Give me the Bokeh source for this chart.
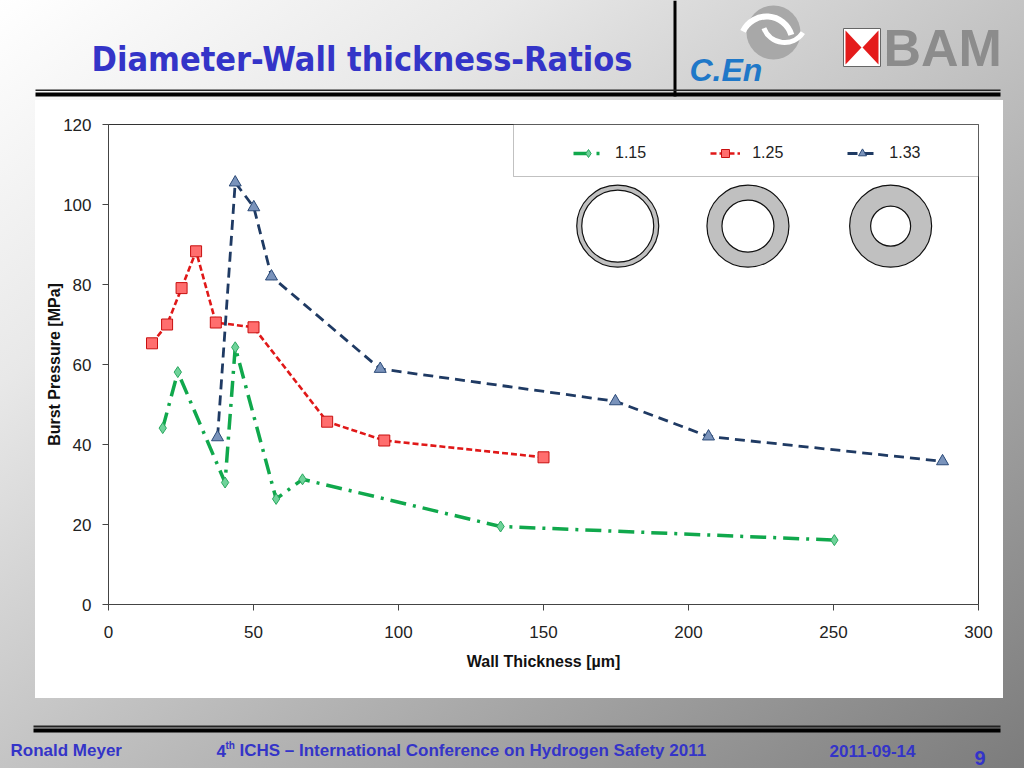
from bokeh.plotting import figure
from bokeh.layouts import column
from bokeh.models import Range1d, Legend, LegendItem, BoxAnnotation, FixedTicker
from bokeh.core.properties import value
from bokeh.embed import file_html
from bokeh.resources import INLINE

# ---------------- data ----------------
x_115 = [18.7, 23.9, 40.2, 43.7, 57.8, 66.9, 135.2, 250.3]
y_115 = [44.1, 58.1, 30.5, 64.3, 26.4, 31.3, 19.5, 16.1]

x_125 = [15.0, 20.2, 25.2, 30.2, 37.0, 50.0, 75.4, 95.1, 150.0]
y_125 = [65.3, 70.0, 79.1, 88.3, 70.5, 69.3, 45.7, 41.0, 36.8]

x_133 = [37.6, 43.7, 50.1, 56.2, 93.7, 174.8, 206.9, 287.6]
y_133 = [41.8, 105.5, 99.3, 82.0, 58.9, 50.8, 42.0, 35.8]

series_labels = ["1.15", "1.25", "1.33"]
x_ticks = [0, 50, 100, 150, 200, 250, 300]
y_ticks = [0, 20, 40, 60, 80, 100, 120]

# ring pictograms (one per ratio)
ring_x = [175.6, 220.5, 269.7]
ring_y = [94.6, 94.6, 94.6]
ring_outer = [41, 41, 41]
ring_inner = [36, 26, 20]

W = 1024
BLUE = "#3434c8"
FONT = "Liberation Sans"


def deco_fig(h, y0):
    f = figure(width=W, height=h, output_backend="svg", toolbar_location=None,
               x_range=Range1d(0, W), y_range=Range1d(y0 + h, y0),
               x_axis_type=None, y_axis_type=None, title=None,
               min_border=0, min_border_left=0, min_border_right=0,
               min_border_top=0, min_border_bottom=0)
    f.frame_align = False
    f.xgrid.visible = False
    f.ygrid.visible = False
    f.outline_line_color = None
    f.background_fill_alpha = 0
    f.border_fill_alpha = 0
    return f


def txt(f, s, X, Y, size, color, font=FONT, style="bold", align="left"):
    # Y is the vertical middle of the text line
    f.text(x=[X], y=[Y], text=[s], text_font=value(font), text_font_size=size,
           text_color=color, text_font_style=style, text_align=align,
           text_baseline="middle")


def bar(f, x0, x1, y0, y1, c):
    f.quad(left=[x0], right=[x1], top=[y0], bottom=[y1], fill_color=c,
           line_color=None)


# ---------------- header ----------------
hdr = deco_fig(100, 0)
bar(hdr, 673, 676, 0, 96, "#000000")
bar(hdr, 35, 1000, 89, 90.5, "#222222")
bar(hdr, 35, 1000, 92, 96, "#000000")
txt(hdr, "Diameter-Wall thickness-Ratios", 91, 58, "34px", BLUE,
    font="DejaVu Sans Condensed")
# C.En swirl logo
hdr.circle(x=[773], y=[32], radius=[27], fill_color="#a8a8a8", line_color=None)
hdr.arc(x=[766], y=[42], radius=[26], start_angle=[0.3], end_angle=[2.7],
        line_color="white", line_width=6)
hdr.arc(x=[784], y=[20], radius=[22], start_angle=[3.5], end_angle=[5.7],
        line_color="white", line_width=5)
txt(hdr, "C.En", 689, 69, "32px", "#1f78c8", style="bold italic")
# BAM logo
hdr.quad(left=[843], right=[880], top=[28], bottom=[66], fill_color="white",
         line_color="#666666", line_width=1)
hdr.patches(xs=[[845, 845, 861], [878, 878, 862]],
            ys=[[30, 64, 47], [30, 64, 47]], fill_color="#e41b1b", line_color=None)
txt(hdr, "BAM", 883, 47, "52px", "#8c8c8c")

# ---------------- chart ----------------
FL, FT, FR, FB = 108, 124, 978, 604   # frame edges in page px
CT, CB = 100, 698                    # chart panel top / bottom

p = figure(width=W, height=CB - CT, output_backend="svg", toolbar_location=None,
           x_range=Range1d(0, 300), y_range=Range1d(0, 120), title=None,
           min_border_left=FL, min_border_top=FT - CT,
           min_border_right=W - FR, min_border_bottom=CB - FB)
p.frame_align = False
p.styles = {"background": "linear-gradient(#fff,#fff) 35px 0px / 968px 598px no-repeat"}
p.border_fill_alpha = 0
p.background_fill_color = "white"
p.outline_line_color = "#333333"
p.outline_line_width = 1
p.xgrid.visible = False
p.ygrid.visible = False

for ax in (p.xaxis[0], p.yaxis[0]):
    ax.axis_line_color = "#444444"
    ax.major_tick_line_color = "#444444"
    ax.major_tick_in = 0
    ax.major_tick_out = 6
    ax.minor_tick_line_color = None
    ax.major_label_text_font = FONT
    ax.major_label_text_font_size = "17px"
    ax.major_label_text_color = "#222222"
    ax.axis_label_text_font = FONT
    ax.axis_label_text_font_style = "bold"
    ax.axis_label_text_font_size = "16px"
    ax.axis_label_text_color = "#111111"

p.xaxis[0].ticker = FixedTicker(ticks=x_ticks)
p.yaxis[0].ticker = FixedTicker(ticks=y_ticks)
p.xaxis[0].major_label_standoff = 15
p.yaxis[0].major_label_standoff = 11
p.xaxis[0].axis_label = "Wall Thickness [µm]"
p.yaxis[0].axis_label = "Burst Pressure [MPa]"
p.xaxis[0].axis_label_standoff = 12
p.yaxis[0].axis_label_standoff = -3

# legend box
p.add_layout(BoxAnnotation(left=(513 - FL) / 2.9, bottom=(FB - 176) / 4.0,
                           fill_color="white", fill_alpha=1,
                           line_color="#333333", line_width=1, level="underlay"))

# rings
p.annulus(x=ring_x, y=ring_y, inner_radius=ring_inner, outer_radius=ring_outer,
          inner_radius_units="screen", outer_radius_units="screen",
          fill_color="#c0c0c0", line_color="#111111", line_width=1.2)

# series
g_line = p.line(x_115, y_115, line_color="#10a84c", line_width=3.5, line_dash="16 7 3 7")
g_pts = p.scatter(x_115, y_115, marker="diamond", size=11, fill_color="#6fd39a",
                  line_color="#2aa860", line_width=1)
r_line = p.line(x_125, y_125, line_color="#e01818", line_width=2.6, line_dash="6 3")
r_pts = p.scatter(x_125, y_125, marker="square", size=11, fill_color="#ff6e6e",
                  line_color="#c81010", line_width=1)
b_line = p.line(x_133, y_133, line_color="#1f3a63", line_width=2.8, line_dash="10 6")
b_pts = p.scatter(x_133, y_133, marker="triangle", size=12, fill_color="#7a93bb",
                  line_color="#2b4a78", line_width=1)

legend = Legend(items=[
    LegendItem(label=series_labels[0], renderers=[g_line, g_pts]),
    LegendItem(label=series_labels[1], renderers=[r_line, r_pts]),
    LegendItem(label=series_labels[2], renderers=[b_line, b_pts]),
], orientation="horizontal", location=(465, 441), padding=0, margin=0,
    spacing=64, glyph_width=30, glyph_height=20, label_standoff=12,
    border_line_alpha=0, background_fill_alpha=0,
    label_text_font=FONT, label_text_font_size="16px",
    label_text_color="#222222")
p.add_layout(legend)

# ---------------- footer ----------------
ftr = deco_fig(768 - CB, CB)
bar(ftr, 33, 1000, 725, 727, "#222222")
bar(ftr, 33, 1000, 728, 732, "#000000")
txt(ftr, "Ronald Meyer", 10, 750, "17px", BLUE)
txt(ftr, "4", 216, 750, "17px", BLUE)
txt(ftr, "th", 225, 745, "10px", BLUE)
txt(ftr, "ICHS – International Conference on Hydrogen Safety 2011", 239, 750,
    "17px", BLUE)
txt(ftr, "2011-09-14", 829, 750, "17px", BLUE)
txt(ftr, "9", 974, 757, "20px", BLUE)

page = column(hdr, p, ftr, spacing=0)
page.styles = {"background": "linear-gradient(to bottom right, #ffffff 0%, "
                             "#e8e8e8 25%, #bdbdbd 55%, #7c7c7c 100%)"}

open("out.html", "w").write(file_html(page, INLINE))
